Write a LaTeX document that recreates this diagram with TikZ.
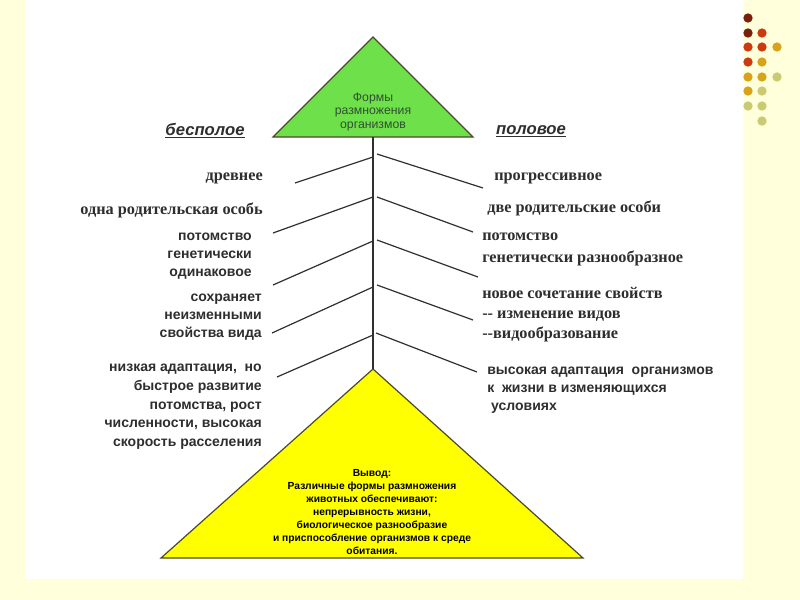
\documentclass[tikz,border=0pt]{standalone}
\usepackage{fontspec}
\setmainfont{Liberation Serif}
\setsansfont{Liberation Sans}
\definecolor{bgyellow}{HTML}{FFFFDC}
\definecolor{greenfill}{HTML}{6EE04A}
\definecolor{yellowfill}{HTML}{FFFF00}
\definecolor{outline}{HTML}{4A4A30}
\definecolor{labelgray}{HTML}{2E2E2E}
\definecolor{linegray}{HTML}{303030}
\definecolor{gtextcol}{HTML}{2F5030}
\definecolor{dotA}{HTML}{7A1F0A}
\definecolor{dotB}{HTML}{CC3A10}
\definecolor{dotC}{HTML}{D9A21B}
\definecolor{dotD}{HTML}{CACA72}
\begin{document}
\begin{tikzpicture}[x=0.75pt,y=-0.75pt,
  lbl/.style={text=labelgray, inner sep=0pt},
  serifl/.style={lbl, font=\fontsize{12.2}{16}\selectfont\bfseries},
  sansl/.style={lbl, font=\fontsize{10.5}{13.3}\selectfont\sffamily\bfseries},
  branch/.style={draw=linegray, line width=0.9pt},
  tri/.style={draw=outline, line width=0.9pt},
  head/.style={lbl, font=\fontsize{12.5}{14}\selectfont\sffamily\bfseries\itshape},
  dot/.style={circle, inner sep=0pt, minimum size=7pt}]
\useasboundingbox (0,0) rectangle (800,600);
\fill[bgyellow] (0,0) rectangle (800,600);
\fill[white] (25,0) rectangle (743,579);

% dots
\node[dot, fill=dotA] (d11) at (748,18) {};
\node[dot, fill=dotA] (d21) at (748,33) {};
\node[dot, fill=dotB] (d22) at (762,33) {};
\node[dot, fill=dotB] (d31) at (748,47) {};
\node[dot, fill=dotB] (d32) at (762,47) {};
\node[dot, fill=dotC] (d33) at (777,47) {};
\node[dot, fill=dotB] (d41) at (748,62) {};
\node[dot, fill=dotC] (d42) at (762,62) {};
\node[dot, fill=dotC] (d51) at (748,77) {};
\node[dot, fill=dotC] (d52) at (762,77) {};
\node[dot, fill=dotD] (d53) at (777,77) {};
\node[dot, fill=dotC] (d61) at (748,91) {};
\node[dot, fill=dotD] (d62) at (762,91) {};
\node[dot, fill=dotD] (d71) at (748,106) {};
\node[dot, fill=dotD] (d72) at (762,106) {};
\node[dot, fill=dotD] (d82) at (762,121) {};

% triangles
\draw[tri, fill=greenfill] (373,37) -- (473,137) -- (273,137) -- cycle;
\draw[tri, fill=yellowfill] (373,369) -- (583,558) -- (161,558) -- cycle;
\coordinate (gbase) at (373,137);
\coordinate (yapex) at (373,369);
\node[inner sep=0pt, align=center, text=gtextcol,
  font=\fontsize{9.2}{10.2}\selectfont\sffamily] (gtext) at (373,112)
  {Формы\\размножения\\организмов};
\node[inner sep=0pt, align=center, text=black,
  font=\fontsize{7.7}{9.7}\selectfont\sffamily\bfseries] (ytext) at (372,512)
  {Вывод:\\Различные формы размножения\\животных обеспечивают:\\непрерывность жизни,\\биологическое разнообразие\\и приспособление организмов к среде\\обитания.};

% headings
\node[head] (bes) at (205,131) {\underline{бесполое}};
\node[head] (pol) at (531,131) {\underline{половое}};

% trunk
\draw[branch] (gbase) -- (yapex);

% trunk points
\coordinate (l1) at (373,157);
\coordinate (l2) at (373,197);
\coordinate (l3) at (373,241);
\coordinate (l4) at (373,287);
\coordinate (l5) at (373,335);
\coordinate (r1) at (377,154);
\coordinate (r2) at (377,197);
\coordinate (r3) at (377,240);
\coordinate (r4) at (377,285);
\coordinate (r5) at (376,333);
\coordinate (le1) at (295,183);
\coordinate (le2) at (273,233);
\coordinate (le3) at (273,285);
\coordinate (le4) at (272,333);
\coordinate (le5) at (277,377);
\coordinate (re1) at (483,188);
\coordinate (re2) at (473,232);
\coordinate (re3) at (478,277);
\coordinate (re4) at (473,320);
\coordinate (re5) at (477,372);
\foreach \i in {1,...,5}{
  \draw[branch] (l\i) -- (le\i);
  \draw[branch] (r\i) -- (re\i);
}

% left labels
\node[serifl, anchor=east] (a1) at (263,178) {древнее};
\node[serifl, anchor=east] (a2) at (263,210) {одна родительская особь};
\node[sansl, anchor=east, align=right] (a3) at (252,256)
  {потомство\\генетически\\одинаковое};
\node[sansl, anchor=east, align=right] (a4) at (262,317)
  {сохраняет\hspace{8pt}\\неизменными\hspace{6pt}\\свойства вида};
\node[sansl, anchor=east, align=right, font=\fontsize{10.5}{14}\selectfont\sffamily\bfseries] (a5) at (262,407)
  {низкая адаптация,\ \ но\\быстрое развитие\\потомства, рост\\численности, высокая\\скорость расселения};

% right labels
\node[serifl, anchor=west] (b1) at (494,178) {прогрессивное};
\node[serifl, anchor=west] (b2) at (487,208) {две родительские особи};
\node[serifl, anchor=west, align=left, font=\fontsize{12.2}{16.5}\selectfont\bfseries] (b3) at (482,249)
  {потомство\\генетически разнообразное};
\node[serifl, anchor=west, align=left, font=\fontsize{12.2}{15}\selectfont\bfseries] (b4) at (482,315)
  {новое сочетание свойств\\-{}- изменение видов\\-{}-видообразование};
\node[sansl, anchor=west, align=left] (b5) at (487,390)
  {высокая адаптация\ \ организмов\\к\ \ жизни в изменяющихся\\\ условиях};
\end{tikzpicture}
\end{document}
